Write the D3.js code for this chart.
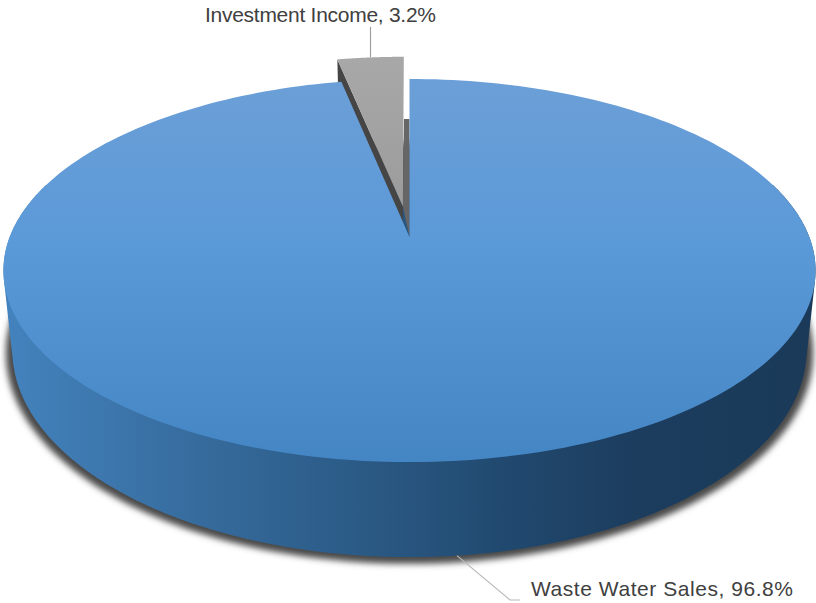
<!DOCTYPE html>
<html>
<head>
<meta charset="utf-8">
<script src="https://cdn.jsdelivr.net/npm/d3@7"></script>
<style>
  html, body { margin: 0; padding: 0; background: #fff; }
  svg { display: block; }
  text { font-family: "Liberation Sans", Arial, sans-serif; fill: #404040; }
</style>
</head>
<body>
<svg id="chart" width="816" height="603"></svg>
<script>
const categories = ["Waste Water Sales", "Investment Income"];
const shares = [96.8, 3.2];
const pieLabels = ["Waste Water Sales, 96.8%", "Investment Income, 3.2%"];

const width = 816, height = 603;
const svg = d3.select("#chart");

// Tilted-disc model: a unit circle seen in perspective, with a top and a bottom face.
const cx = 409.5;
const tilt = -0.175;
const faces = [
  { scaleX: 399.8, yScale: 144.2, yOrigin: 237 },
  { scaleX: 391.0, yScale: 145.8, yOrigin: 313.8 }
];
const explode = 0.17;

function project(u, v, face) {
  const f = faces[face], w = 1 + tilt * v;
  return [cx + f.scaleX * u / w, (f.yOrigin + f.yScale * v) / w];
}
const polar = (angle, r = 1, off = [0, 0]) =>
  [off[0] + r * Math.sin(angle), off[1] - r * Math.cos(angle)];
const onFace = (p, face) => project(p[0], p[1], face);

const arcs = d3.pie().sort(null).value(d => d)(shares);
const [mainArc, smallArc] = arcs;
const smallMid = (smallArc.startAngle + smallArc.endAngle) / 2;
const smallOff = polar(smallMid, explode);

const rim = (a0, a1, face, off, r = 1) =>
  d3.range(0, 241).map(i => onFace(polar(a0 + (a1 - a0) * i / 240, r, off), face));
const line = d3.line();
const closed = pts => line(pts) + "Z";

// Gradients
const defs = svg.append("defs");
function gradient(id, x1, y1, x2, y2, stops) {
  const g = defs.append("linearGradient").attr("id", id)
    .attr("gradientUnits", "userSpaceOnUse")
    .attr("x1", x1).attr("y1", y1).attr("x2", x2).attr("y2", y2);
  stops.forEach(([o, c]) => g.append("stop").attr("offset", o).attr("stop-color", c));
}
gradient("topFill", 0, 79, 0, 462, [[0, "#6c9fd7"], [0.45, "#5a99d8"], [1, "#4485c4"]]);
gradient("sideFill", 10, 0, 810, 0, [
  [0, "#4382bd"], [0.22, "#376d9f"], [0.45, "#2a5984"],
  [0.62, "#21496f"], [0.78, "#1c3d5e"], [1, "#1b3a59"]
]);
gradient("smallFill", 0, 55, 0, 215, [[0, "#a8a8a8"], [1, "#9b9b9b"]]);
defs.append("filter").attr("id", "soft")
  .attr("x", "-5%").attr("y", "-5%").attr("width", "110%").attr("height", "110%")
  .append("feGaussianBlur").attr("stdDeviation", 3);

// Soft shadow under the disc
svg.append("path")
  .attr("d", closed(rim(0, 2 * Math.PI, 1, [0, 0], 1.016)))
  .attr("transform", "translate(0,2)")
  .attr("fill", "#4a4a4a")
  .attr("filter", "url(#soft)");

// Outer wall of the disc: hull of the front half of both rims
const frontPoints = [0, 1].flatMap(face =>
  d3.range(0, 721).map(i => polar(i / 720 * 2 * Math.PI))
    .filter(p => p[1] > -0.3)
    .map(p => onFace(p, face)));
svg.append("path")
  .attr("d", closed(d3.polygonHull(frontPoints)))
  .attr("fill", "url(#sideFill)");

// Walls of the pulled-out slice, seen through the notch
const smallApex = onFace(smallOff, 0);
const smallLeft = onFace(polar(smallArc.startAngle, 1, smallOff), 0);
const smallLeftLow = onFace(polar(smallArc.startAngle, 1, smallOff), 1);
const smallApexLow = onFace(smallOff, 1);
const smallRightLow = onFace(polar(smallArc.endAngle, 1, smallOff), 1);
const mainApex = onFace([0, 0], 0);

svg.append("path")
  .attr("d", closed([smallLeft, smallLeftLow, smallApexLow, smallApex]))
  .attr("fill", "#454545");
svg.append("path")
  .attr("d", closed([
    [smallRightLow[0], smallRightLow[1]],
    [mainApex[0], smallRightLow[1]],
    mainApex,
    smallApex
  ]))
  .attr("fill", "#666666");

// Top face of the pulled-out slice
svg.append("path")
  .attr("d", closed([smallApex, ...rim(smallArc.startAngle, smallArc.endAngle, 0, smallOff)]))
  .attr("fill", "url(#smallFill)");

// Top face of the main slice
svg.append("path")
  .attr("d", closed([mainApex, ...rim(mainArc.startAngle, mainArc.endAngle, 0, [0, 0])]))
  .attr("fill", "url(#topFill)");

// Leader lines leave each slice at its mid angle
const smallRimMid = onFace(polar(smallMid, 1, smallOff), 0);
svg.append("path")
  .attr("d", line([[smallRimMid[0], 27], smallRimMid]))
  .attr("fill", "none").attr("stroke", "#a0a0a0").attr("stroke-width", 1.2);
const frontRim = onFace(polar((mainArc.startAngle + mainArc.endAngle) / 2), 1);
svg.append("path")
  .attr("d", line([frontRim, [510, 600], [520, 600]]))
  .attr("fill", "none").attr("stroke", "#b8b8b8").attr("stroke-width", 1.2);

// Data labels
svg.append("text").attr("x", 205).attr("y", 22)
  .attr("font-size", 21).attr("textLength", 231).attr("lengthAdjust", "spacing")
  .text(pieLabels[1]);
svg.append("text").attr("x", 531).attr("y", 596)
  .attr("font-size", 21).attr("textLength", 262).attr("lengthAdjust", "spacing")
  .text(pieLabels[0]);
</script>
</body>
</html>
